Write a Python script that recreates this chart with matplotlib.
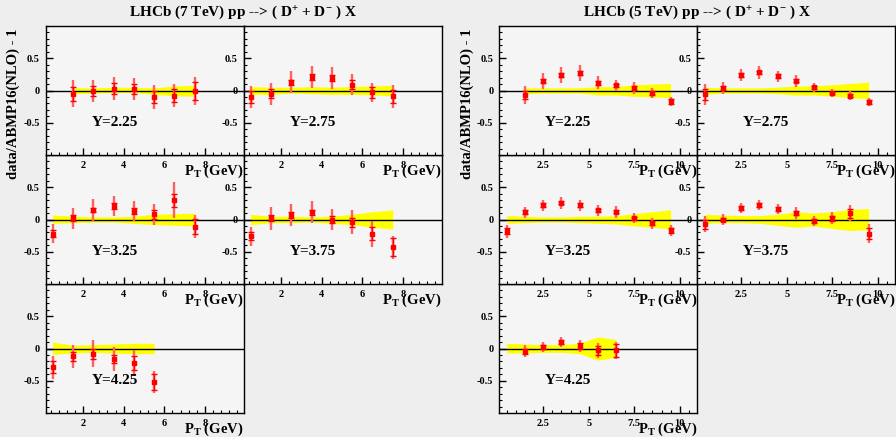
import matplotlib
matplotlib.use('Agg')
import matplotlib.pyplot as plt
from matplotlib.ticker import FixedLocator, MultipleLocator
import numpy as np

plt.rcParams['font.family'] = 'Liberation Serif'
plt.rcParams['font.weight'] = 'bold'
plt.rcParams['mathtext.fontset'] = 'custom'
plt.rcParams['mathtext.rm'] = 'Liberation Serif:bold'
plt.rcParams['mathtext.default'] = 'rm'

# ---- LHCb 7 TeV, data/theory - 1 (pt bin centres, value, stat err, total err)
# ---- band: theory uncertainty (pt, upper, lower)
d7_225 = dict(pt=[1.5, 2.5, 3.5, 4.5, 5.5, 6.5, 7.5],
              val=[-0.05, -0.01, 0.03, 0.02, -0.10, -0.08, -0.01],
              stat=[0.11, 0.08, 0.08, 0.08, 0.09, 0.10, 0.14],
              tot=[0.21, 0.17, 0.18, 0.17, 0.18, 0.18, 0.22],
              bpt=[1.5, 2.5, 3.5, 4.5, 5.5, 6.5, 7.5],
              bup=[0.04, 0.04, 0.05, 0.05, 0.04, 0.07, 0.08],
              bdn=[0.05, 0.04, 0.03, 0.03, 0.06, 0.08, 0.09])
d7_275 = dict(pt=[0.5, 1.5, 2.5, 3.5, 4.5, 5.5, 6.5, 7.5],
              val=[-0.10, -0.05, 0.13, 0.21, 0.19, 0.09, -0.03, -0.09],
              stat=[0.09, 0.07, 0.04, 0.05, 0.05, 0.07, 0.08, 0.10],
              tot=[0.17, 0.17, 0.17, 0.17, 0.17, 0.16, 0.15, 0.18],
              bpt=[0.5, 1.5, 2.5, 3.5, 4.5, 5.5, 6.5, 7.5],
              bup=[0.06, 0.05, 0.05, 0.06, 0.05, 0.06, 0.07, 0.08],
              bdn=[0.06, 0.06, 0.04, 0.05, 0.06, 0.06, 0.07, 0.08])
d7_325 = dict(pt=[0.5, 1.5, 2.5, 3.5, 4.5, 5.5, 6.5, 7.5],
              val=[-0.22, 0.02, 0.15, 0.21, 0.13, 0.08, 0.30, -0.11],
              stat=[0.05, 0.05, 0.035, 0.04, 0.045, 0.065, 0.10, 0.115],
              tot=[0.15, 0.16, 0.17, 0.16, 0.15, 0.16, 0.28, 0.18],
              bpt=[0.5, 1.5, 2.5, 3.5, 4.5, 5.5, 6.5, 7.5],
              bup=[0.07, 0.05, 0.04, 0.04, 0.05, 0.08, 0.09, 0.10],
              bdn=[0.06, 0.05, 0.04, 0.04, 0.06, 0.08, 0.09, 0.10])
d7_375 = dict(pt=[0.5, 1.5, 2.5, 3.5, 4.5, 5.5, 6.5, 7.5],
              val=[-0.26, 0.02, 0.07, 0.11, 0.00, -0.04, -0.22, -0.43],
              stat=[0.06, 0.045, 0.04, 0.045, 0.05, 0.07, 0.10, 0.14],
              tot=[0.15, 0.18, 0.17, 0.17, 0.17, 0.18, 0.20, 0.18],
              bpt=[0.5, 1.5, 2.5, 3.5, 4.5, 5.5, 6.5, 7.5],
              bup=[0.08, 0.05, 0.05, 0.04, 0.05, 0.08, 0.12, 0.15],
              bdn=[0.08, 0.05, 0.05, 0.04, 0.06, 0.08, 0.12, 0.15])
d7_425 = dict(pt=[0.5, 1.5, 2.5, 3.5, 4.5, 5.5],
              val=[-0.29, -0.12, -0.08, -0.16, -0.22, -0.52],
              stat=[0.09, 0.07, 0.08, 0.065, 0.11, 0.13],
              tot=[0.18, 0.18, 0.21, 0.19, 0.20, 0.17],
              bpt=[0.5, 1.5, 2.5, 3.5, 4.5, 5.5],
              bup=[0.10, 0.05, 0.06, 0.07, 0.08, 0.08],
              bdn=[0.09, 0.07, 0.06, 0.07, 0.08, 0.08])

# ---- LHCb 5 TeV
d5_225 = dict(pt=[1.5, 2.5, 3.5, 4.5, 5.5, 6.5, 7.5, 8.5, 9.5],
              val=[-0.07, 0.15, 0.24, 0.27, 0.12, 0.08, 0.04, -0.04, -0.17],
              stat=[0.06, 0.03, 0.03, 0.03, 0.03, 0.02, 0.03, 0.025, 0.04],
              tot=[0.14, 0.12, 0.13, 0.12, 0.10, 0.09, 0.09, 0.08, 0.07],
              bpt=[1.5, 2.5, 3.5, 4.5, 5.5, 6.5, 7.5, 8.5, 9.5],
              bup=[0.04, 0.04, 0.04, 0.04, 0.06, 0.06, 0.09, 0.10, 0.11],
              bdn=[0.05, 0.04, 0.04, 0.04, 0.07, 0.07, 0.09, 0.10, 0.11])
d5_275 = dict(pt=[0.5, 1.5, 2.5, 3.5, 4.5, 5.5, 6.5, 7.5, 8.5, 9.5],
              val=[-0.06, 0.04, 0.24, 0.28, 0.22, 0.15, 0.05, -0.04, -0.08, -0.18],
              stat=[0.08, 0.03, 0.03, 0.03, 0.03, 0.025, 0.02, 0.02, 0.02, 0.035],
              tot=[0.16, 0.09, 0.10, 0.10, 0.09, 0.09, 0.07, 0.06, 0.07, 0.06],
              bpt=[0.5, 1.5, 2.5, 3.5, 4.5, 5.5, 6.5, 7.5, 8.5, 9.5],
              bup=[0.05, 0.04, 0.04, 0.04, 0.05, 0.07, 0.07, 0.09, 0.11, 0.13],
              bdn=[0.06, 0.04, 0.04, 0.04, 0.05, 0.07, 0.07, 0.09, 0.11, 0.13])
d5_325 = dict(pt=[0.5, 1.5, 2.5, 3.5, 4.5, 5.5, 6.5, 7.5, 8.5, 9.5],
              val=[-0.18, 0.11, 0.22, 0.26, 0.22, 0.14, 0.12, 0.02, -0.06, -0.17],
              stat=[0.045, 0.03, 0.03, 0.025, 0.03, 0.025, 0.025, 0.025, 0.03, 0.04],
              tot=[0.10, 0.09, 0.09, 0.09, 0.085, 0.09, 0.09, 0.08, 0.08, 0.08],
              bpt=[0.5, 1.5, 2.5, 3.5, 4.5, 5.5, 6.5, 7.5, 8.5, 9.5],
              bup=[0.06, 0.05, 0.04, 0.04, 0.05, 0.05, 0.06, 0.09, 0.12, 0.15],
              bdn=[0.06, 0.05, 0.04, 0.04, 0.05, 0.06, 0.07, 0.10, 0.12, 0.15])
d5_375 = dict(pt=[0.5, 1.5, 2.5, 3.5, 4.5, 5.5, 6.5, 7.5, 8.5, 9.5],
              val=[-0.07, 0.00, 0.18, 0.22, 0.16, 0.10, -0.02, 0.02, 0.10, -0.22],
              stat=[0.07, 0.03, 0.03, 0.03, 0.03, 0.03, 0.03, 0.04, 0.07, 0.09],
              tot=[0.12, 0.08, 0.08, 0.08, 0.08, 0.09, 0.08, 0.09, 0.13, 0.15],
              bpt=[0.5, 1.5, 2.5, 3.5, 4.5, 5.5, 6.5, 7.5, 8.5, 9.5],
              bup=[0.08, 0.07, 0.06, 0.06, 0.08, 0.12, 0.10, 0.12, 0.16, 0.17],
              bdn=[0.06, 0.05, 0.05, 0.06, 0.09, 0.12, 0.10, 0.14, 0.17, 0.16])
d5_425 = dict(pt=[1.5, 2.5, 3.5, 4.5, 5.5, 6.5],
              val=[-0.04, 0.02, 0.10, 0.04, -0.03, -0.03],
              stat=[0.04, 0.03, 0.03, 0.04, 0.07, 0.10],
              tot=[0.09, 0.08, 0.08, 0.09, 0.11, 0.13],
              bpt=[0.5, 1.5, 2.5, 3.5, 4.5, 5.5, 6.5],
              bup=[0.08, 0.07, 0.06, 0.06, 0.08, 0.18, 0.14],
              bdn=[0.07, 0.07, 0.06, 0.06, 0.08, 0.18, 0.14])

rapidities = ['2.25', '2.75', '3.25', '3.75', '4.25']
sets_7 = [d7_225, d7_275, d7_325, d7_375, d7_425]
sets_5 = [d5_225, d5_275, d5_325, d5_375, d5_425]

W, H = 896, 437
fig = plt.figure(figsize=(W / 100, H / 100), dpi=100, facecolor='#eeeeee')

pw, ph = 198, 129
row_top = [26, 155, 284]
slots = [(0, 0), (0, 1), (1, 0), (1, 1), (2, 0)]


def draw_group(x0, data, xlim, xmajor, xminor, xlabels, title):
    for (row, col), yv, d in zip(slots, rapidities, data):
        left = x0 + col * pw
        bottom = H - row_top[row] - ph
        ax = fig.add_axes([left / W, bottom / H, pw / W, ph / H], facecolor='#f5f5f5')
        # lower rows first so the upper row tick labels sit on top
        ax.set_zorder(10 * (2 - row) + col)

        bpt = np.array(d['bpt'])
        ax.fill_between(bpt, -np.array(d['bdn']), d['bup'], color='#ffff00', lw=0, zorder=1)
        ax.axhline(0, color='black', lw=1.0, zorder=2)

        pt = np.array(d['pt'])
        val = np.array(d['val'])
        ax.errorbar(pt, val, yerr=d['tot'], fmt='none', ecolor='#ff6060', elinewidth=1.7, zorder=3)
        ax.errorbar(pt, val, yerr=d['stat'], fmt='s', color='red', ms=3.5, mec='red',
                    ecolor='red', elinewidth=1.0, capsize=2.2, capthick=1.0, zorder=4)

        ax.set_xlim(*xlim)
        ax.set_ylim(-1, 1)
        ax.yaxis.set_major_locator(FixedLocator([-0.5, 0, 0.5]))
        ax.set_yticklabels(['-0.5', '0', '0.5'])
        ax.yaxis.set_minor_locator(MultipleLocator(0.1))
        ax.xaxis.set_major_locator(FixedLocator(xmajor))
        ax.set_xticklabels(xlabels)
        ax.xaxis.set_minor_locator(MultipleLocator(xminor))
        ax.tick_params(which='both', direction='in', top=False, right=False, labelsize=7.5, pad=4)
        ax.tick_params(which='major', length=5, width=1)
        ax.tick_params(which='minor', length=2.5, width=0.8)
        for s in ax.spines.values():
            s.set_linewidth(1.0)

        ax.text(0.35, 0.25, 'Y=' + yv, transform=ax.transAxes, ha='center', va='center',
                fontsize=11, fontweight='bold')
        ax.text(1.0, -0.13, r'P$_{\rm T}$ (GeV)', transform=ax.transAxes, ha='right', va='center',
                fontsize=10.5, fontweight='bold', clip_on=False)

    fig.text((x0 + pw) / W, 1 - 12 / H, title + r' pp --> ( D$^{+}$ + D$^{-}$ ) X',
             ha='center', va='center', fontsize=11, fontweight='bold')
    fig.text((x0 - 32) / W, 1 - 104 / H, 'data/ABMP16(NLO) - 1', rotation=90,
             ha='center', va='center', fontsize=10.5, fontweight='bold')


draw_group(45.5, sets_7, (0.15, 9.9), [2, 4, 6, 8], 0.4, ['2', '4', '6', '8'], 'LHCb (7 TeV)')
draw_group(499, sets_5, (0.07, 10.95), [2.5, 5, 7.5, 10], 0.5, ['2.5', '5', '7.5', '10'], 'LHCb (5 TeV)')

fig.savefig('out.png', dpi=100, facecolor=fig.get_facecolor())
